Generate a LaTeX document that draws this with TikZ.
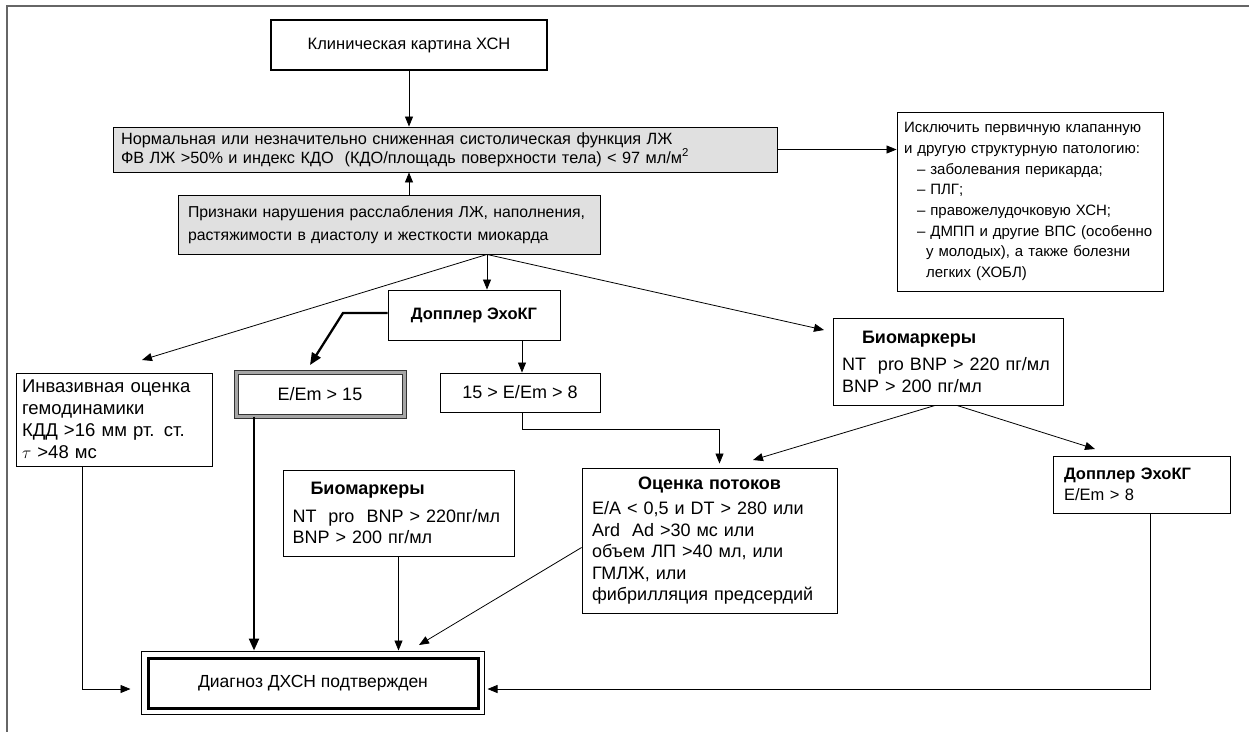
\documentclass[tikz,border=0pt]{standalone}
\usepackage{fontspec}
\setmainfont{Liberation Sans}
\usetikzlibrary{arrows.meta}

\begin{document}
\begin{tikzpicture}
[x=1pt,y=-1pt,font=\fontsize{16.5}{20.5}\selectfont,
box/.style={draw,line width=0.9pt,inner sep=0pt,align=left},
greybox/.style={box,fill=black!12},
dbl/.style={draw=black!80,line width=1pt,double=black!35,double distance=3pt,inner sep=0pt},
arr/.style={-{Triangle[length=10pt,width=8pt]},line width=0.8pt},
thickarr/.style={-{Triangle[length=12pt,width=10pt]},line width=2.3pt}]
\useasboundingbox (0,0) rectangle (1249,732);
\draw[black!60,line width=1.6pt] (1249,6) -- (7,6) -- (7,732);
\node (klin) at (409,45) [box,line width=2pt,minimum width=276pt,minimum height=50pt,align=center,font=\fontsize{16.5}{20}\selectfont] {Клиническая картина ХСН};
\node (norm) at (445,149.5) [greybox,minimum width=664pt,minimum height=45pt,text width=648pt,font=\fontsize{16.3}{19}\selectfont] {Нормальная или незначительно сниженная систолическая функция ЛЖ\\ФВ ЛЖ >50\% и индекс КДО\ \ (КДО/площадь поверхности тела) < 97 мл/м\textsuperscript{2}};
\node (iskl) at (1030,201.5) [box,minimum width=266pt,minimum height=179pt,text width=252pt,font=\fontsize{15}{20.7}\selectfont] {Исключить первичную клапанную\\и другую структурную патологию:\\\hspace*{13pt}– заболевания перикарда;\\\hspace*{13pt}– ПЛГ;\\\hspace*{13pt}– правожелудочковую ХСН;\\\hspace*{13pt}– ДМПП и другие ВПС (особенно\\\hspace*{22pt}у молодых), а также болезни\\\hspace*{22pt}легких (ХОБЛ)};
\node (priz) at (389,224.5) [greybox,minimum width=422pt,minimum height=59pt,text width=402pt,font=\fontsize{15.8}{23}\selectfont] {Признаки нарушения расслабления ЛЖ, наполнения,\\растяжимости в диастолу и жесткости миокарда};
\node (dopl) at (474,315) [box,minimum width=172pt,minimum height=50pt,align=center] {\textbf{Допплер ЭхоКГ}};
\node (invas) at (114,419.5) [box,minimum width=196pt,minimum height=93pt,text width=184pt,font=\fontsize{18.5}{22}\selectfont] {Инвазивная оценка\\гемодинамики\\КДД >16 мм рт. ст.\\$\tau$ >48 мс};
\node (emhi) at (320,394) [dbl,minimum width=168pt,minimum height=44pt,font=\fontsize{18}{21}\selectfont] {E/Em > 15};
\node (emmid) at (520,392.5) [box,minimum width=160pt,minimum height=39pt,align=center,font=\fontsize{18}{21}\selectfont] {15 > E/Em > 8};
\node (bioR) at (948,361.5) [box,minimum width=230pt,minimum height=87pt,text width=212pt,font=\fontsize{18}{21.5}\selectfont] {\hspace*{20pt}\textbf{Биомаркеры}\\[6pt]NT\ \ pro BNP > 220 пг/мл\\BNP > 200 пг/мл};
\node (dopR) at (1141.5,484.5) [box,minimum width=177pt,minimum height=57pt,text width=155pt] {\textbf{Допплер ЭхоКГ}\\E/Em > 8};
\node (bioM) at (398.5,513) [box,minimum width=231pt,minimum height=86pt,text width=212pt,font=\fontsize{18}{21.5}\selectfont] {\hspace*{18pt}\textbf{Биомаркеры}\\[6pt]NT\ \ pro\ \ BNP > 220пг/мл\\BNP > 200 пг/мл};
\node (potok) at (709.5,540.5) [box,minimum width=255pt,minimum height=145pt,text width=235pt,font=\fontsize{18}{21.5}\selectfont] {\makebox[235pt]{\textbf{Оценка потоков}}\\[4pt]E/A < 0,5 и DT > 280 или\\Ard\ \ Ad >30 мс или\\объем ЛП >40 мл, или\\ГМЛЖ, или\\фибрилляция предсердий};
\node (diag) at (313,683) [box,line width=3pt,minimum width=330pt,minimum height=50pt,align=center,font=\fontsize{17.5}{21}\selectfont] {Диагноз ДХСН подтвержден};
\draw[line width=0.8pt] ([xshift=-5pt,yshift=5pt]diag.north west) rectangle ([xshift=5pt,yshift=-5pt]diag.south east);
% connectors
\coordinate (fan) at ([xshift=98pt]priz.south);
\coordinate (invtip) at (142,360);
\coordinate (biotip) at (824,330);
\coordinate (bend) at (343,313);
\coordinate (emtip) at (310,365);
\coordinate (potip) at (753,460);
\coordinate (dtip) at (1095,449);
\coordinate (ltip) at (419,645);
\coordinate (dtop) at ([yshift=6pt]diag.north);
\coordinate (fdown) at ([xshift=-66pt]emhi.south);
\draw[arr] (klin.south) -- (klin.south |- norm.north);
\draw[arr] (klin.south |- priz.north) -- (klin.south |- norm.south);
\draw[arr] (norm.east) -- (norm.east -| iskl.west);
\draw[arr] (fan) -- (fan |- dopl.north);
\draw[arr] (fan) -- (invtip);
\draw[arr] (fan) -- (biotip);
\draw[thickarr] ([yshift=2pt]dopl.west) -- (bend) -- (emtip);
\draw[arr] ([xshift=2pt]dopl.south -| emmid.north) -- ([xshift=2pt]emmid.north);
\draw[arr] ([xshift=2pt]emmid.south) -- ++(0,17) -| ([xshift=10pt,yshift=4pt]potok.north);
\draw[arr] ([xshift=-13pt]bioR.south) -- (potip);
\draw[arr] ([xshift=9pt]bioR.south) -- (dtip);
\draw[arr] ([yshift=-7pt]potok.west) -- (ltip);
\draw[arr] (bioM.south) -- (bioM.south |- dtop);
\draw[thickarr] (fdown) -- (fdown |- dtop);
\draw[arr] ([xshift=-32pt]invas.south) |- ([xshift=-16pt,yshift=-6pt]diag.west);
\draw[arr] ([xshift=9pt]dopR.south) |- ([xshift=8pt,yshift=-6pt]diag.east);
\end{tikzpicture}
\end{document}
